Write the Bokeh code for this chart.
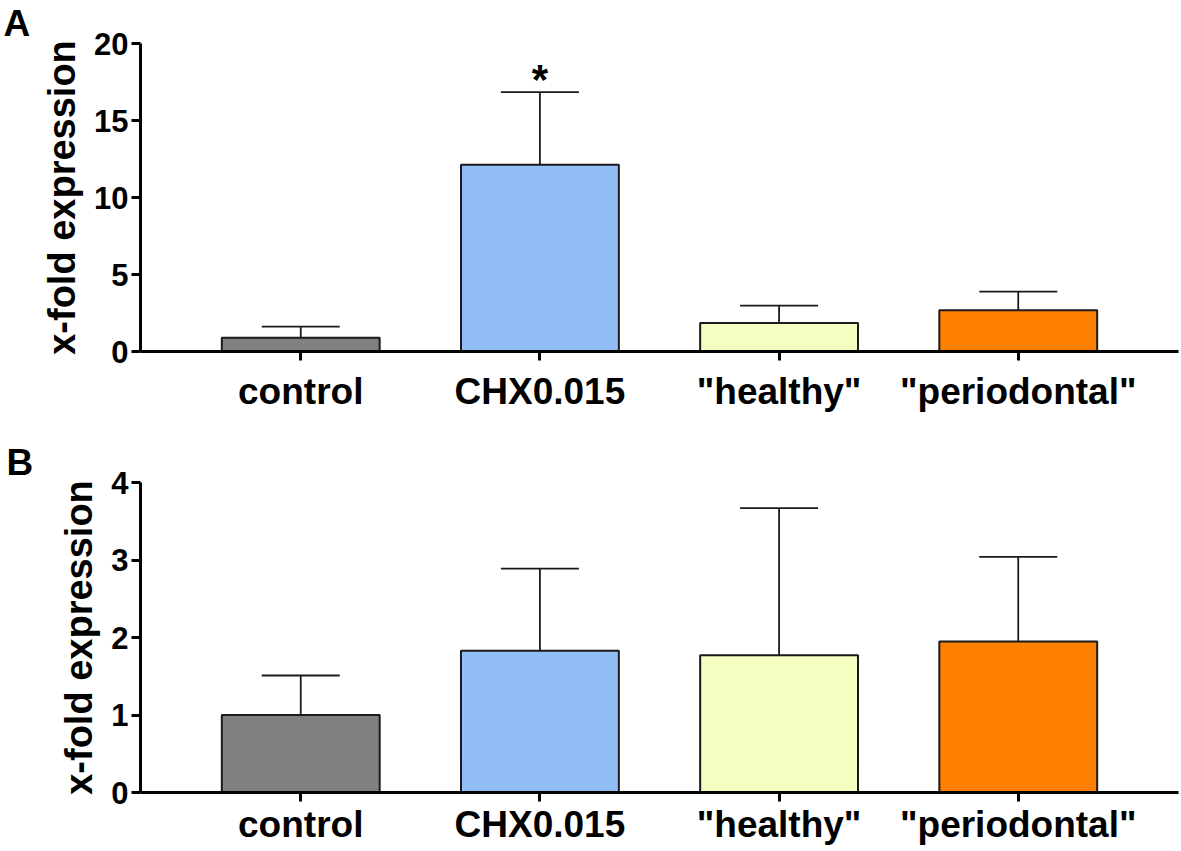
from bokeh.plotting import figure
from bokeh.models import ColumnDataSource, FactorRange, Range1d, FixedTicker, Whisker, TeeHead
from bokeh.layouts import column
from bokeh.embed import file_html
from bokeh.resources import INLINE
from bokeh.core.properties import value

# ---------------- data ----------------
categories = ["control", "CHX0.015", '"healthy"', '"periodontal"']
bar_colors = ["#808080", "#92BEF8", "#F5FDC0", "#FF8000"]

a_mean = [0.90, 12.13, 1.85, 2.68]
a_upper = [1.62, 16.84, 2.98, 3.89]
a_marks = ["", "*", "", ""]
a_ticks = [0, 5, 10, 15, 20]

b_mean = [1.00, 1.83, 1.77, 1.95]
b_upper = [1.51, 2.89, 3.67, 3.04]
b_marks = ["", "", "", ""]
b_ticks = [0, 1, 2, 3, 4]

FONT = "Liberation Sans"
INK = "#1a1a1a"
WIDTH = 1180


def make_panel(letter, means, uppers, marks, ticks, border_left, border_top,
               border_bottom, height, x_standoff):
    src = ColumnDataSource(dict(cat=categories, mean=means, upper=uppers,
                                color=bar_colors, mark=marks))
    p = figure(
        title=letter,
        x_range=FactorRange(factors=categories, range_padding=0.17,
                            range_padding_units="absolute"),
        y_range=Range1d(0, ticks[-1]),
        width=WIDTH, height=height,
        output_backend="svg", toolbar_location=None,
        min_border_left=border_left, min_border_right=2,
        min_border_top=border_top, min_border_bottom=border_bottom,
        background_fill_color="white", border_fill_color="white",
    )
    p.outline_line_color = None
    p.xgrid.visible = False
    p.ygrid.visible = False

    t = p.title
    t.text_font = FONT
    t.text_font_style = "bold"
    t.text_font_size = "37px"
    t.text_color = "black"
    t.align = "left"
    t.standoff = 0
    t.offset = 3 - border_left

    p.vbar(x="cat", top="mean", width=0.66, source=src,
           fill_color="color", line_color=INK, line_width=2)

    w = Whisker(source=src, base="cat", lower="mean", upper="upper",
                dimension="height", line_color=INK, line_width=1.8,
                lower_head=None,
                upper_head=TeeHead(size=78, line_color=INK, line_width=1.8))
    p.add_layout(w)

    p.text(x="cat", y="upper", text="mark", source=src,
           text_font=value(FONT), text_font_style="bold",
           text_font_size="42px", text_align="center",
           text_baseline="alphabetic", y_offset=-13, text_color="black")

    for ax in (p.xaxis[0], p.yaxis[0]):
        ax.axis_line_width = 3
        ax.axis_line_color = "black"
        ax.major_tick_line_width = 3
        ax.major_tick_line_color = "black"
        ax.major_tick_in = 0
        ax.major_tick_out = 9
        ax.minor_tick_line_color = None
        ax.major_label_text_font = FONT
        ax.major_label_text_font_style = "bold"
        ax.major_label_text_color = "black"

    xa = p.xaxis[0]
    xa.major_label_text_font_size = "37px"
    xa.major_label_standoff = x_standoff

    ya = p.yaxis[0]
    ya.ticker = FixedTicker(ticks=ticks)
    ya.major_label_text_font_size = "31px"
    ya.major_label_standoff = 3
    ya.axis_label = "x-fold expression"
    ya.axis_label_text_font = FONT
    ya.axis_label_text_font_style = "bold"
    ya.axis_label_text_font_size = "38px"
    ya.axis_label_text_color = "black"
    ya.axis_label_standoff = 8
    return p


pa = make_panel("A", a_mean, a_upper, a_marks, a_ticks, 140, 43, 79, 430, 10)
pb = make_panel("B", b_mean, b_upper, b_marks, b_ticks, 137, 52, 57, 419, 2)

layout = column(pa, pb, spacing=0)
open("out.html", "w").write(file_html(layout, INLINE))
